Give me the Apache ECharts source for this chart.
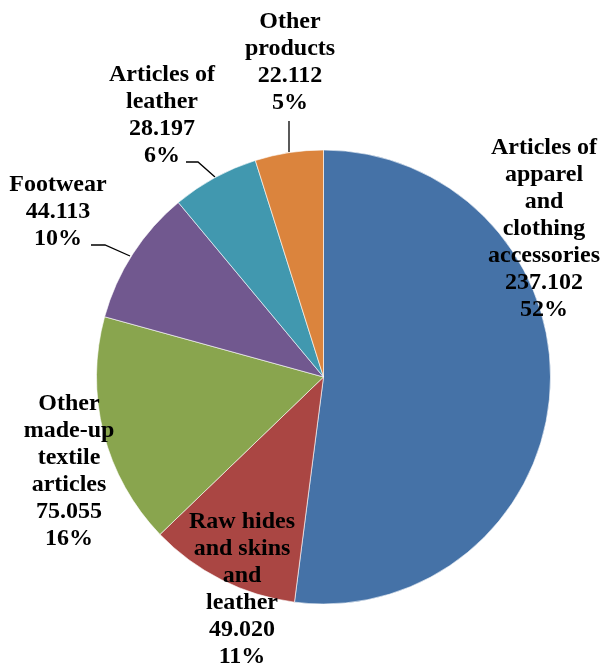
<!DOCTYPE html>
<html>
<head>
<meta charset="utf-8">
<script src="https://cdn.jsdelivr.net/npm/echarts@6/dist/echarts.min.js"></script>
<style>html,body{margin:0;padding:0;background:#fff}#c{width:601px;height:665px}</style>
</head>
<body>
<div id="c"></div>
<script>
const categories = [
  "Articles of\napparel\nand\nclothing\naccessories",
  "Raw hides\nand skins\nand\nleather",
  "Other\nmade-up\ntextile\narticles",
  "Footwear",
  "Articles of\nleather",
  "Other\nproducts"
];
const values = [237.102, 49.020, 75.055, 44.113, 28.197, 22.112];
const colors = ["#4572A7", "#AA4643", "#89A54E", "#71588F", "#4198AF", "#DB843D"];

// label placement (style only)
const labelPos = [
  {x: 544, y: 229},
  {x: 242, y: 589},
  {x: 69, y: 471},
  {x: 58, y: 212},
  {x: 162, y: 115},
  {x: 290, y: 62}
];
const leaderLines = {
  3: [[91, 245], [105, 245], [130, 256]],
  4: [[186, 162], [198, 162], [215, 177]],
  5: [[289, 121], [289, 121], [289, 152]]
};

const chart = echarts.init(document.getElementById('c'), null, {renderer: 'canvas'});
chart.setOption({
  animation: false,
  series: [{
    type: 'pie',
    center: [323.5, 377],
    radius: 227,
    startAngle: 90,
    clockwise: true,
    avoidLabelOverlap: false,
    itemStyle: {borderColor: '#ffffff', borderWidth: 0.6},
    label: {
      show: true,
      position: 'outside',
      fontFamily: '"Liberation Serif", "Times New Roman", serif',
      fontWeight: 'bold',
      fontSize: 24,
      lineHeight: 27,
      color: '#000',
      align: 'center',
      formatter: p => p.name + '\n' + p.value.toFixed(3) + '\n' + Math.round(p.percent) + '%'
    },
    labelLine: {show: true, lineStyle: {color: '#000', width: 1.3}, smooth: false},
    labelLayout: function (params) {
      const i = params.dataIndex;
      const r = {x: labelPos[i].x, y: labelPos[i].y, align: 'center', verticalAlign: 'middle'};
      if (leaderLines[i]) r.labelLinePoints = leaderLines[i];
      return r;
    },
    data: values.map((v, i) => ({
      name: categories[i],
      value: v,
      itemStyle: {color: colors[i]},
      labelLine: {show: !!leaderLines[i]}
    }))
  }]
});
</script>
</body>
</html>
